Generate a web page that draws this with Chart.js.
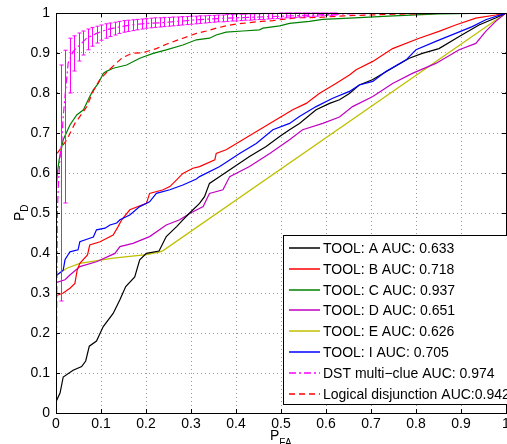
<!DOCTYPE html>
<html>
<head>
<meta charset="utf-8">
<script src="https://cdn.jsdelivr.net/npm/chart.js@4.4.0/dist/chart.umd.min.js"></script>
<style>
  html, body { margin: 0; padding: 0; background: #fff; }
  canvas { display: block; }
</style>
</head>
<body>
<canvas id="roc" width="507" height="444"></canvas>
<script>
// ROC curves, values (x = P_FA, y = P_D)
const aX = [0, 0, 0.009, 0.016, 0.038, 0.057, 0.066, 0.074, 0.09, 0.105, 0.127, 0.142, 0.155, 0.175, 0.186, 0.201, 0.229, 0.245, 0.268, 0.282, 0.297, 0.319, 0.33, 0.341, 0.364, 0.397, 0.43, 0.467, 0.497, 0.519, 0.541, 0.578, 0.608, 0.63, 0.652, 0.674, 0.703, 0.741, 0.785, 0.814, 0.851, 0.896, 0.94, 0.978, 1];
const aY = [0, 0.028, 0.05, 0.09, 0.107, 0.116, 0.13, 0.167, 0.18, 0.216, 0.249, 0.283, 0.316, 0.34, 0.383, 0.399, 0.405, 0.441, 0.466, 0.483, 0.5, 0.524, 0.541, 0.574, 0.591, 0.616, 0.641, 0.666, 0.691, 0.708, 0.724, 0.758, 0.774, 0.783, 0.799, 0.82, 0.833, 0.858, 0.887, 0.899, 0.911, 0.941, 0.97, 0.988, 1];

const bX = [0, 0, 0.016, 0.031, 0.042, 0.047, 0.053, 0.07, 0.075, 0.098, 0.127, 0.138, 0.146, 0.164, 0.201, 0.208, 0.238, 0.253, 0.268, 0.282, 0.304, 0.319, 0.353, 0.356, 0.378, 0.415, 0.452, 0.489, 0.526, 0.556, 0.585, 0.622, 0.652, 0.667, 0.704, 0.748, 0.807, 0.851, 0.888, 0.933, 0.977, 1];
const bY = [0, 0.293, 0.3, 0.312, 0.324, 0.357, 0.374, 0.395, 0.42, 0.428, 0.445, 0.466, 0.483, 0.508, 0.524, 0.549, 0.558, 0.566, 0.583, 0.599, 0.612, 0.616, 0.633, 0.649, 0.658, 0.683, 0.708, 0.733, 0.758, 0.774, 0.799, 0.824, 0.845, 0.858, 0.879, 0.911, 0.937, 0.954, 0.97, 0.987, 0.995, 1];

const cX = [0, 0, 0.003, 0.007, 0.016, 0.031, 0.046, 0.061, 0.075, 0.083, 0.094, 0.105, 0.112, 0.127, 0.157, 0.186, 0.216, 0.245, 0.282, 0.312, 0.341, 0.356, 0.378, 0.415, 0.452, 0.46, 0.497, 0.519, 0.563, 0.593, 0.652, 0.75, 0.85, 1];
const cY = [0, 0.55, 0.6, 0.633, 0.683, 0.72, 0.745, 0.758, 0.791, 0.808, 0.824, 0.849, 0.854, 0.862, 0.87, 0.887, 0.899, 0.908, 0.92, 0.933, 0.937, 0.945, 0.952, 0.955, 0.958, 0.962, 0.968, 0.974, 0.979, 0.984, 0.987, 0.993, 0.998, 1];

const dX = [0, 0, 0.02, 0.031, 0.053, 0.09, 0.131, 0.142, 0.171, 0.208, 0.245, 0.275, 0.297, 0.327, 0.341, 0.371, 0.386, 0.43, 0.475, 0.519, 0.548, 0.593, 0.63, 0.659, 0.704, 0.748, 0.792, 0.844, 0.896, 0.933, 0.955, 0.977, 1];
const dY = [0, 0.326, 0.333, 0.345, 0.366, 0.378, 0.399, 0.416, 0.424, 0.441, 0.47, 0.483, 0.499, 0.516, 0.549, 0.558, 0.591, 0.616, 0.649, 0.683, 0.708, 0.724, 0.74, 0.766, 0.791, 0.824, 0.849, 0.874, 0.908, 0.924, 0.954, 0.979, 1];

const eX = [0, 0, 0.024, 0.053, 0.127, 0.201, 0.231, 0.238, 1];
const eY = [0, 0.343, 0.362, 0.374, 0.387, 0.396, 0.403, 0.406, 1];

const iX = [0, 0, 0.016, 0.02, 0.031, 0.049, 0.053, 0.075, 0.083, 0.09, 0.109, 0.12, 0.135, 0.142, 0.164, 0.186, 0.208, 0.223, 0.253, 0.282, 0.312, 0.319, 0.364, 0.408, 0.445, 0.482, 0.519, 0.541, 0.578, 0.615, 0.652, 0.674, 0.704, 0.733, 0.778, 0.8, 0.844, 0.888, 0.925, 0.955, 1];
const iY = [0, 0.343, 0.357, 0.383, 0.403, 0.408, 0.428, 0.437, 0.44, 0.458, 0.462, 0.47, 0.475, 0.483, 0.495, 0.516, 0.528, 0.549, 0.558, 0.57, 0.585, 0.591, 0.616, 0.649, 0.674, 0.708, 0.724, 0.741, 0.766, 0.787, 0.804, 0.82, 0.829, 0.854, 0.883, 0.908, 0.929, 0.949, 0.966, 0.983, 1];

const dstX = [0, 0.003, 0.005, 0.009, 0.013, 0.016, 0.02, 0.027, 0.038, 0.053, 0.068, 0.09, 0.112, 0.135, 0.164, 0.201, 0.238, 0.282, 0.312, 0.36, 0.4, 0.45, 0.5, 0.55, 0.6, 0.65, 0.7, 0.8, 0.9, 1];
const dstY = [0, 0.5, 0.566, 0.641, 0.683, 0.741, 0.791, 0.875, 0.904, 0.92, 0.937, 0.949, 0.958, 0.964, 0.97, 0.974, 0.976, 0.98, 0.983, 0.986, 0.988, 0.99, 0.992, 0.994, 0.996, 0.998, 0.999, 1, 1, 1];

// error bars on the DST curve
const errX = [0.01, 0.02, 0.03, 0.04, 0.05, 0.06, 0.07, 0.08, 0.09, 0.10, 0.11, 0.12, 0.13, 0.14, 0.15, 0.16, 0.17, 0.18, 0.19, 0.20, 0.21, 0.22, 0.23, 0.24, 0.25, 0.26, 0.27, 0.28, 0.29, 0.30, 0.31, 0.32, 0.33, 0.34, 0.35, 0.36, 0.37, 0.38, 0.39, 0.40, 0.41, 0.42, 0.43, 0.44, 0.45, 0.46, 0.47, 0.48, 0.49, 0.50, 0.51, 0.52, 0.53, 0.54, 0.55, 0.56, 0.57, 0.58, 0.59, 0.60, 0.61, 0.62];
const errLo = [0.28, 0.525, 0.80, 0.855, 0.88, 0.895, 0.908, 0.917, 0.925, 0.932, 0.937, 0.941, 0.945, 0.949, 0.952, 0.954, 0.956, 0.958, 0.96, 0.962, 0.963, 0.964, 0.965, 0.966, 0.967, 0.968, 0.969, 0.97, 0.971, 0.972, 0.973, 0.974, 0.975, 0.976, 0.977, 0.978, 0.978, 0.979, 0.98, 0.98, 0.981, 0.982, 0.982, 0.983, 0.984, 0.984, 0.985, 0.986, 0.986, 0.987, 0.988, 0.988, 0.989, 0.99, 0.99, 0.991, 0.992, 0.992, 0.993, 0.994, 0.994, 0.995];
const errHi = [0.87, 0.907, 0.937, 0.943, 0.95, 0.955, 0.96, 0.964, 0.967, 0.97, 0.973, 0.975, 0.977, 0.979, 0.981, 0.982, 0.983, 0.984, 0.985, 0.986, 0.987, 0.988, 0.988, 0.989, 0.989, 0.99, 0.99, 0.991, 0.991, 0.992, 0.992, 0.993, 0.993, 0.994, 0.994, 0.995, 0.995, 0.996, 0.996, 0.997, 0.997, 0.997, 0.998, 0.998, 0.998, 0.999, 0.999, 0.999, 0.999, 1, 1, 1, 1, 1, 1, 1, 1, 1, 1, 1, 1, 1];

const lX = [0, 0, 0.024, 0.042, 0.068, 0.083, 0.098, 0.12, 0.146, 0.168, 0.194, 0.223, 0.245, 0.282, 0.312, 0.334, 0.356, 0.378, 0.404, 0.43, 0.456, 0.482, 0.511, 0.534, 0.585, 0.641, 0.75, 0.85, 1];
const lY = [0, 0.645, 0.683, 0.724, 0.765, 0.805, 0.835, 0.86, 0.887, 0.899, 0.901, 0.911, 0.922, 0.937, 0.949, 0.955, 0.962, 0.968, 0.973, 0.976, 0.979, 0.981, 0.985, 0.988, 0.989, 0.993, 0.997, 0.999, 1];

const labels = [
  "TOOL: A AUC: 0.633",
  "TOOL: B AUC: 0.718",
  "TOOL: C AUC: 0.937",
  "TOOL: D AUC: 0.651",
  "TOOL: E AUC: 0.626",
  "TOOL: I AUC: 0.705",
  "DST multi\u2212clue AUC: 0.974",
  "Logical disjunction AUC:0.942",
];

const FONT = '"Liberation Sans", Arial, Helvetica, sans-serif';
Chart.defaults.font.family = FONT;
Chart.defaults.font.size = 14;
Chart.defaults.color = "#000";

function pts(xs, ys) {
  return xs.map((x, i) => ({ x: x, y: ys[i] }));
}

function line(label, xs, ys, color, dash, order) {
  return {
    label: label,
    data: pts(xs, ys),
    borderColor: color,
    backgroundColor: color,
    borderWidth: 1.2,
    borderDash: dash,
    pointRadius: 0,
    tension: 0,
    fill: false,
    order: order,
  };
}

const datasets = [
  line(labels[0], aX, aY, "#000000", [], 5),
  line(labels[1], bX, bY, "#ff0000", [], 4),
  line(labels[2], cX, cY, "#008000", [], 3),
  line(labels[3], dX, dY, "#c000c0", [], 6),
  line(labels[4], eX, eY, "#bfbf00", [], 7),
  line(labels[5], iX, iY, "#0000ff", [], 2),
  line(labels[6], dstX, dstY, "#ff00ff", [7, 3, 2, 3], 0),
  line(labels[7], lX, lY, "#ff0000", [6, 4], 1),
];

// frame, inward ticks, error bars, axis titles and legend box
const decor = {
  id: "decor",
  afterDatasetsDraw(chart) {
    const { ctx, scales: { x, y } } = chart;
    ctx.save();
    ctx.strokeStyle = "#ff00ff";
    ctx.lineWidth = 1;
    ctx.beginPath();
    for (let i = 0; i < errX.length; i++) {
      const px = Math.round(x.getPixelForValue(errX[i])) + 0.5;
      const lo = y.getPixelForValue(errLo[i]);
      const hi = y.getPixelForValue(errHi[i]);
      ctx.moveTo(px, lo);
      ctx.lineTo(px, hi);
      ctx.moveTo(px - 2, lo);
      ctx.lineTo(px + 2, lo);
      ctx.moveTo(px - 2, hi);
      ctx.lineTo(px + 2, hi);
    }
    ctx.stroke();
    ctx.restore();
  },
  afterDraw(chart) {
    const { ctx, chartArea: a, scales: { x, y } } = chart;
    ctx.save();
    ctx.strokeStyle = "#000";
    ctx.lineWidth = 1;
    ctx.strokeRect(a.left + 0.5, a.top + 0.5, a.right - a.left, a.bottom - a.top);

    ctx.beginPath();
    x.ticks.forEach((t) => {
      const px = Math.round(x.getPixelForValue(t.value)) + 0.5;
      ctx.moveTo(px, a.bottom);
      ctx.lineTo(px, a.bottom - 4);
      ctx.moveTo(px, a.top);
      ctx.lineTo(px, a.top + 4);
    });
    y.ticks.forEach((t) => {
      const py = Math.round(y.getPixelForValue(t.value)) + 0.5;
      ctx.moveTo(a.left, py);
      ctx.lineTo(a.left + 4, py);
      ctx.moveTo(a.right, py);
      ctx.lineTo(a.right - 4, py);
    });
    ctx.stroke();

    // axis titles with subscripts
    ctx.fillStyle = "#000";
    ctx.textBaseline = "alphabetic";
    ctx.textAlign = "left";
    ctx.font = "14px " + FONT;
    ctx.fillText("P", 270, 440);
    const pw = ctx.measureText("P").width;
    ctx.font = "10px " + FONT;
    ctx.fillText("FA", 270 + pw, 446);

    ctx.save();
    ctx.translate(24, 221);
    ctx.rotate(-Math.PI / 2);
    ctx.font = "14px " + FONT;
    ctx.fillText("P", 0, 0);
    ctx.font = "10px " + FONT;
    ctx.fillText("D", pw, 4);
    ctx.restore();

    // legend
    const lx = 283.5, ly = 235.5, lw = 240, lh = 169;
    ctx.fillStyle = "#fff";
    ctx.fillRect(lx, ly, lw, lh);
    ctx.strokeStyle = "#000";
    ctx.lineWidth = 1;
    ctx.strokeRect(lx, ly, lw, lh);
    ctx.font = "14px " + FONT;
    chart.data.datasets.forEach((ds, i) => {
      const base = 253 + i * 20.8;
      const ly2 = Math.round(base - 5);
      ctx.strokeStyle = ds.borderColor;
      ctx.lineWidth = 1.5;
      ctx.setLineDash(ds.borderDash || []);
      ctx.beginPath();
      ctx.moveTo(289, ly2);
      ctx.lineTo(320, ly2);
      ctx.stroke();
      ctx.setLineDash([]);
      ctx.fillStyle = "#000";
      ctx.fillText(ds.label, 323, base);
    });
    ctx.restore();
  },
};

new Chart(document.getElementById("roc"), {
  type: "line",
  data: { datasets: datasets },
  options: {
    responsive: false,
    animation: false,
    layout: { padding: { top: 13, right: 1, left: 0, bottom: 0 } },
    plugins: { legend: { display: false }, tooltip: { enabled: false } },
    scales: {
      x: {
        type: "linear",
        min: 0,
        max: 1,
        ticks: {
          stepSize: 0.1,
          autoSkip: false,
          maxRotation: 0,
          padding: 3,
          callback: (v) => String(Math.round(v * 10) / 10),
        },
        grid: { color: "#9a9a9a", drawTicks: false },
        border: { display: true, color: "#000", dash: [1, 3] },
        afterFit: (s) => {
          s.height = 31;
          s.paddingLeft = 0;
          s.paddingRight = 0;
        },
      },
      y: {
        type: "linear",
        min: 0,
        max: 1,
        ticks: {
          stepSize: 0.1,
          autoSkip: false,
          padding: 6,
          callback: (v) => String(Math.round(v * 10) / 10),
        },
        grid: { color: "#9a9a9a", drawTicks: false },
        border: { display: true, color: "#000", dash: [1, 3] },
        afterFit: (s) => {
          s.width = 56;
          s.paddingTop = 0;
          s.paddingBottom = 0;
        },
      },
    },
  },
  plugins: [decor],
});
</script>
</body>
</html>
